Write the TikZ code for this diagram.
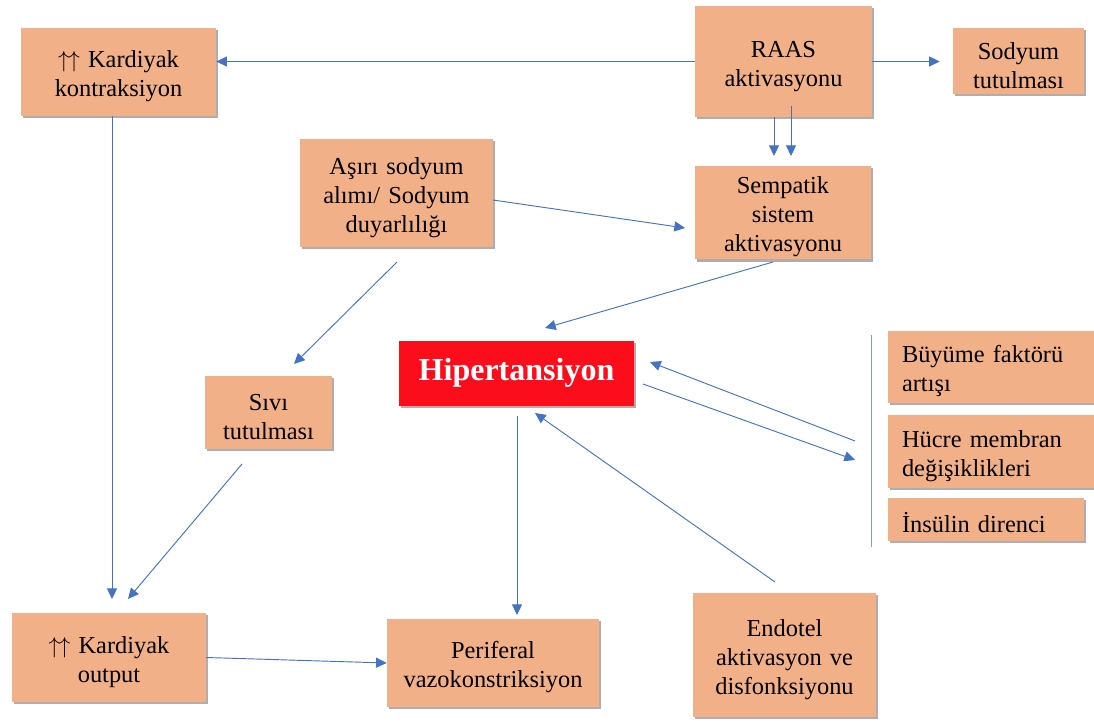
\documentclass[tikz,border=0pt]{standalone}
\usepackage{fontspec}
\setmainfont{Liberation Serif}
\usetikzlibrary{arrows.meta,shadows}
\definecolor{boxfill}{HTML}{F2B088}
\definecolor{hipred}{HTML}{FC0D1B}
\definecolor{arrowblue}{HTML}{4472C4}
\newcommand{\upup}{$\uparrow\mkern-1mu\uparrow$}
\tikzset{
  box/.style={draw=none, fill=boxfill, align=center, inner sep=2pt,
    font=\fontsize{18.3}{21.75}\selectfont,
    execute at begin node={\rule{0pt}{19pt}},
    drop shadow={shadow xshift=1.6pt, shadow yshift=-1.6pt, opacity=0.45, fill=black!70}},
  lbox/.style={box, align=left, inner xsep=10.5pt},
  hipbox/.style={draw=none, fill=hipred, text=white, inner sep=2pt,
    font=\fontsize{24}{28}\selectfont\bfseries,
    drop shadow={shadow xshift=1.6pt, shadow yshift=-1.6pt, opacity=0.45, fill=black!70}},
  conn/.style={draw=arrowblue, line width=0.7pt, -{Triangle[length=8pt,width=7.5pt]}},
  plainline/.style={draw=arrowblue!70, line width=0.7pt}
}
\begin{document}
\begin{tikzpicture}[x=0.75pt,y=-0.75pt]
\useasboundingbox (0,0) rectangle (1094,723);
% boxes
\node[box, text width=142pt, minimum width=146.25pt, minimum height=66pt] (kk) at (118.5,72) {\upup{} Kardiyak\\kontraksiyon};
\node[box, text width=128pt, minimum width=132.75pt, minimum height=83.25pt] (raas) at (783.5,61.5) {RAAS\\aktivasyonu};
\node[box, text width=94pt, minimum width=98.25pt, minimum height=49.5pt] (sod) at (1018.5,61) {Sodyum\\tutulması};
\node[box, text width=128pt, minimum width=132pt, minimum height=69.75pt] (semp) at (783,212.5) {Sempatik\\sistem\\aktivasyonu};
\node[box, text width=140pt, minimum width=144.75pt, minimum height=81pt] (asiri) at (396.5,193) {Aşırı sodyum\\alımı/ Sodyum\\duyarlılığı};
\node[box, text width=91pt, minimum width=95.25pt, minimum height=54.75pt] (sivi) at (268.5,412.5) {Sıvı\\tutulması};
\node[hipbox, minimum width=176.25pt, minimum height=48.75pt] (hip) at (516.5,373) {Hipertansiyon};
\node[lbox, text width=133.5pt, minimum height=54pt] (buy) at (991,367) {Büyüme faktörü\\artışı};
\node[lbox, text width=133.5pt, minimum height=54.75pt] (huc) at (991,451.5) {Hücre membran\\değişiklikleri};
\node[lbox, text width=126pt, minimum height=32.25pt] (ins) at (986,519.5) {İnsülin direnci};
\node[box, text width=141pt, minimum width=145.5pt, minimum height=66.75pt] (out) at (109,657.5) {\upup{} Kardiyak\\output};
\node[box, text width=155pt, minimum width=159pt, minimum height=66pt] (per) at (493,663) {Periferal\\vazokonstriksiyon};
\node[box, text width=133pt, minimum width=137.25pt, minimum height=93pt] (endo) at (784.5,655) {Endotel\\aktivasyon ve\\disfonksiyonu};
% free connector ends
\coordinate (r1s) at (774,117);  \coordinate (r1e) at (774,156);
\coordinate (r2s) at (791,106);  \coordinate (r2e) at (791,156);
\coordinate (as1) at (493,200);  \coordinate (se1) at (685,228);
\coordinate (se2) at (773,262);  \coordinate (hp1) at (545,328);
\coordinate (as2) at (397,262);  \coordinate (sv1) at (294,364);
\coordinate (kk1) at (112,116);  \coordinate (ou1) at (112,599);
\coordinate (sv2) at (242,464);  \coordinate (ou2) at (128,599);
\coordinate (hp2) at (517,416);  \coordinate (pe1) at (517,615);
\coordinate (en1) at (775,582);  \coordinate (hp3) at (535,413);
\coordinate (rb1) at (855,441);  \coordinate (hp4) at (650,362);
\coordinate (hp5) at (643,384);  \coordinate (rb2) at (855,460);
\coordinate (vt) at (871,335);   \coordinate (vb) at (871,547);
% connectors
\draw[conn] (raas.west) -- (kk.east |- raas.west);
\draw[conn, shorten >=9.75pt] (raas.east) -- (sod.west |- raas.east);
\draw[conn] (r1s) -- (r1e);
\draw[conn] (r2s) -- (r2e);
\draw[conn] (as1) -- (se1);
\draw[conn] (se2) -- (hp1);
\draw[conn] (as2) -- (sv1);
\draw[conn] (kk1) -- (ou1);
\draw[conn] (sv2) -- (ou2);
\draw[conn] (out.east) -- (per.west);
\draw[conn] (hp2) -- (pe1);
\draw[conn] (en1) -- (hp3);
\draw[conn] (rb1) -- (hp4);
\draw[conn] (hp5) -- (rb2);
\draw[plainline] (vt) -- (vb);
\end{tikzpicture}
\end{document}
